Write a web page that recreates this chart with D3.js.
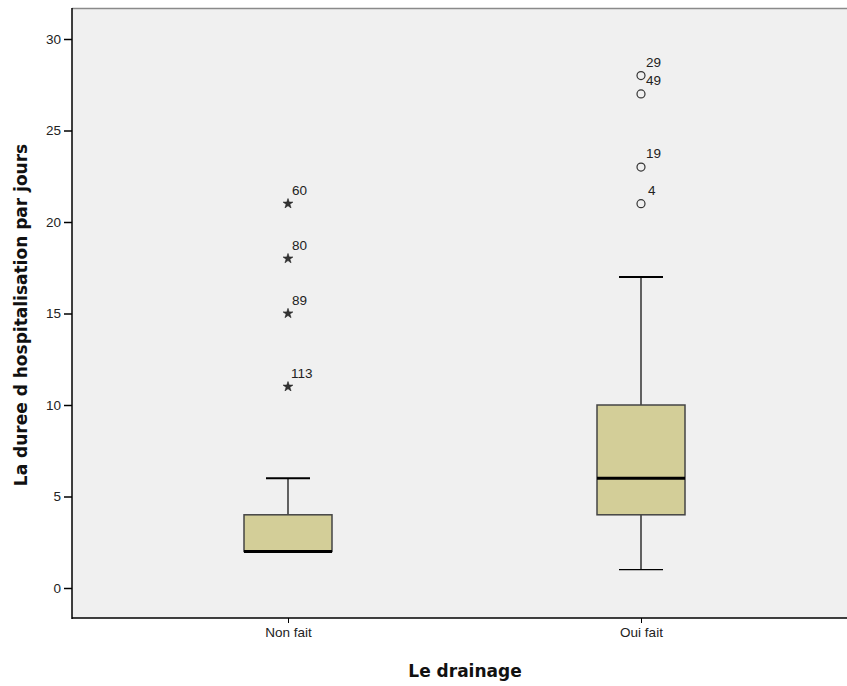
<!DOCTYPE html>
<html><head><meta charset="utf-8">
<script src="https://cdn.jsdelivr.net/npm/d3@7/dist/d3.min.js"></script>
<style>body{margin:0;background:#fff}svg{display:block}</style>
</head><body>
<svg id="c" width="847" height="686"></svg>
<script>
const categories = ["Non fait", "Oui fait"];
const whiskerLow = [2, 1];
const q1 = [2, 4];
const median = [2, 6];
const q3 = [4, 10];
const whiskerHigh = [6, 17];
const extremes = [[21, "60"], [18, "80"], [15, "89"], [11, "113"]]; // Non fait, stars
const outliers = [[28, "29"], [27, "49"], [23, "19"], [21, "4"]]; // Oui fait, circles
const yTicks = [0, 5, 10, 15, 20, 25, 30];

const svg = d3.select("#c");
const L = 72, T = 8, R = 847, B = 618;
const font = "'Liberation Sans', Arial, sans-serif";
const fs = 13.5;

svg.append("rect").attr("x", L).attr("y", T).attr("width", R - L).attr("height", B - T).attr("fill", "#f0f0f0");
svg.append("line").attr("x1", L).attr("x2", R).attr("y1", T + 0.5).attr("y2", T + 0.5).attr("stroke", "#8a8a8a").attr("stroke-width", 1.5);

const y = d3.scaleLinear().domain([0, 30]).range([588, 39]);
const x = d3.scalePoint().domain(categories).range([288, 641]);
const bw = 88;

const yAxis = svg.append("g").attr("transform", `translate(${L},0)`)
  .call(d3.axisLeft(y).tickValues(yTicks).tickSize(8).tickPadding(3));
yAxis.select(".domain").remove();
yAxis.selectAll("line").attr("stroke", "#000").attr("stroke-width", 1.5);
yAxis.selectAll("text").attr("font-family", font).attr("font-size", fs).attr("fill", "#222");

const xAxis = svg.append("g").attr("transform", `translate(0,${B})`)
  .call(d3.axisBottom(x).tickSize(5).tickPadding(4));
xAxis.select(".domain").remove();
xAxis.selectAll("line").attr("stroke", "#000");
xAxis.selectAll("text").attr("font-family", font).attr("font-size", fs).attr("fill", "#222");

svg.append("line").attr("x1", L).attr("x2", L).attr("y1", T).attr("y2", B + 1).attr("stroke", "#000").attr("stroke-width", 1.5);
svg.append("line").attr("x1", L).attr("x2", R).attr("y1", B).attr("y2", B).attr("stroke", "#000").attr("stroke-width", 1.5);

categories.forEach((c, i) => {
  const cx = x(c);
  const g = svg.append("g");
  g.append("line").attr("x1", cx).attr("x2", cx).attr("y1", y(q3[i])).attr("y2", y(whiskerHigh[i])).attr("stroke", "#000").attr("stroke-width", 1.2);
  g.append("line").attr("x1", cx).attr("x2", cx).attr("y1", y(q1[i])).attr("y2", y(whiskerLow[i])).attr("stroke", "#000").attr("stroke-width", 1.2);
  g.append("line").attr("x1", cx - bw / 4).attr("x2", cx + bw / 4).attr("y1", y(whiskerHigh[i])).attr("y2", y(whiskerHigh[i])).attr("stroke", "#000").attr("stroke-width", 2);
  if (whiskerLow[i] < q1[i])
    g.append("line").attr("x1", cx - bw / 4).attr("x2", cx + bw / 4).attr("y1", y(whiskerLow[i])).attr("y2", y(whiskerLow[i])).attr("stroke", "#000").attr("stroke-width", 1.2);
  g.append("rect").attr("x", cx - bw / 2).attr("y", y(q3[i])).attr("width", bw).attr("height", y(q1[i]) - y(q3[i]))
    .attr("fill", "#d3ce98").attr("stroke", "#444").attr("stroke-width", 1.5);
  g.append("line").attr("x1", cx - bw / 2).attr("x2", cx + bw / 2).attr("y1", y(median[i])).attr("y2", y(median[i])).attr("stroke", "#000").attr("stroke-width", 3);
});

const star = d3.symbol().type(d3.symbolStar).size(30);
extremes.forEach(([v, lab]) => {
  const cx = x("Non fait"), cy = y(v);
  svg.append("path").attr("d", star).attr("transform", `translate(${cx},${cy})`).attr("fill", "#333").attr("stroke", "#222").attr("stroke-width", 0.6);
  svg.append("text").attr("x", cx + (lab.length > 2 ? 3 : 4)).attr("y", cy - 9).text(lab)
    .attr("font-family", font).attr("font-size", fs).attr("fill", "#222");
});
outliers.forEach(([v, lab]) => {
  const cx = x("Oui fait"), cy = y(v);
  svg.append("circle").attr("cx", cx).attr("cy", cy).attr("r", 4).attr("fill", "none").attr("stroke", "#333").attr("stroke-width", 1.2);
  svg.append("text").attr("x", cx + (lab.length > 1 ? 5 : 7)).attr("y", cy - 9).text(lab)
    .attr("font-family", font).attr("font-size", fs).attr("fill", "#222");
});

svg.append("text").attr("x", 465).attr("y", 677).attr("text-anchor", "middle").text("Le drainage")
  .attr("font-family", "'DejaVu Sans', sans-serif").attr("font-weight", "bold").attr("font-size", 17).attr("fill", "#111");
svg.append("text").attr("transform", "translate(27,315) rotate(-90)").attr("text-anchor", "middle").text("La duree d hospitalisation par jours")
  .attr("font-family", "'DejaVu Sans', sans-serif").attr("font-weight", "bold").attr("font-size", 17).attr("fill", "#111");
</script>
</body></html>
